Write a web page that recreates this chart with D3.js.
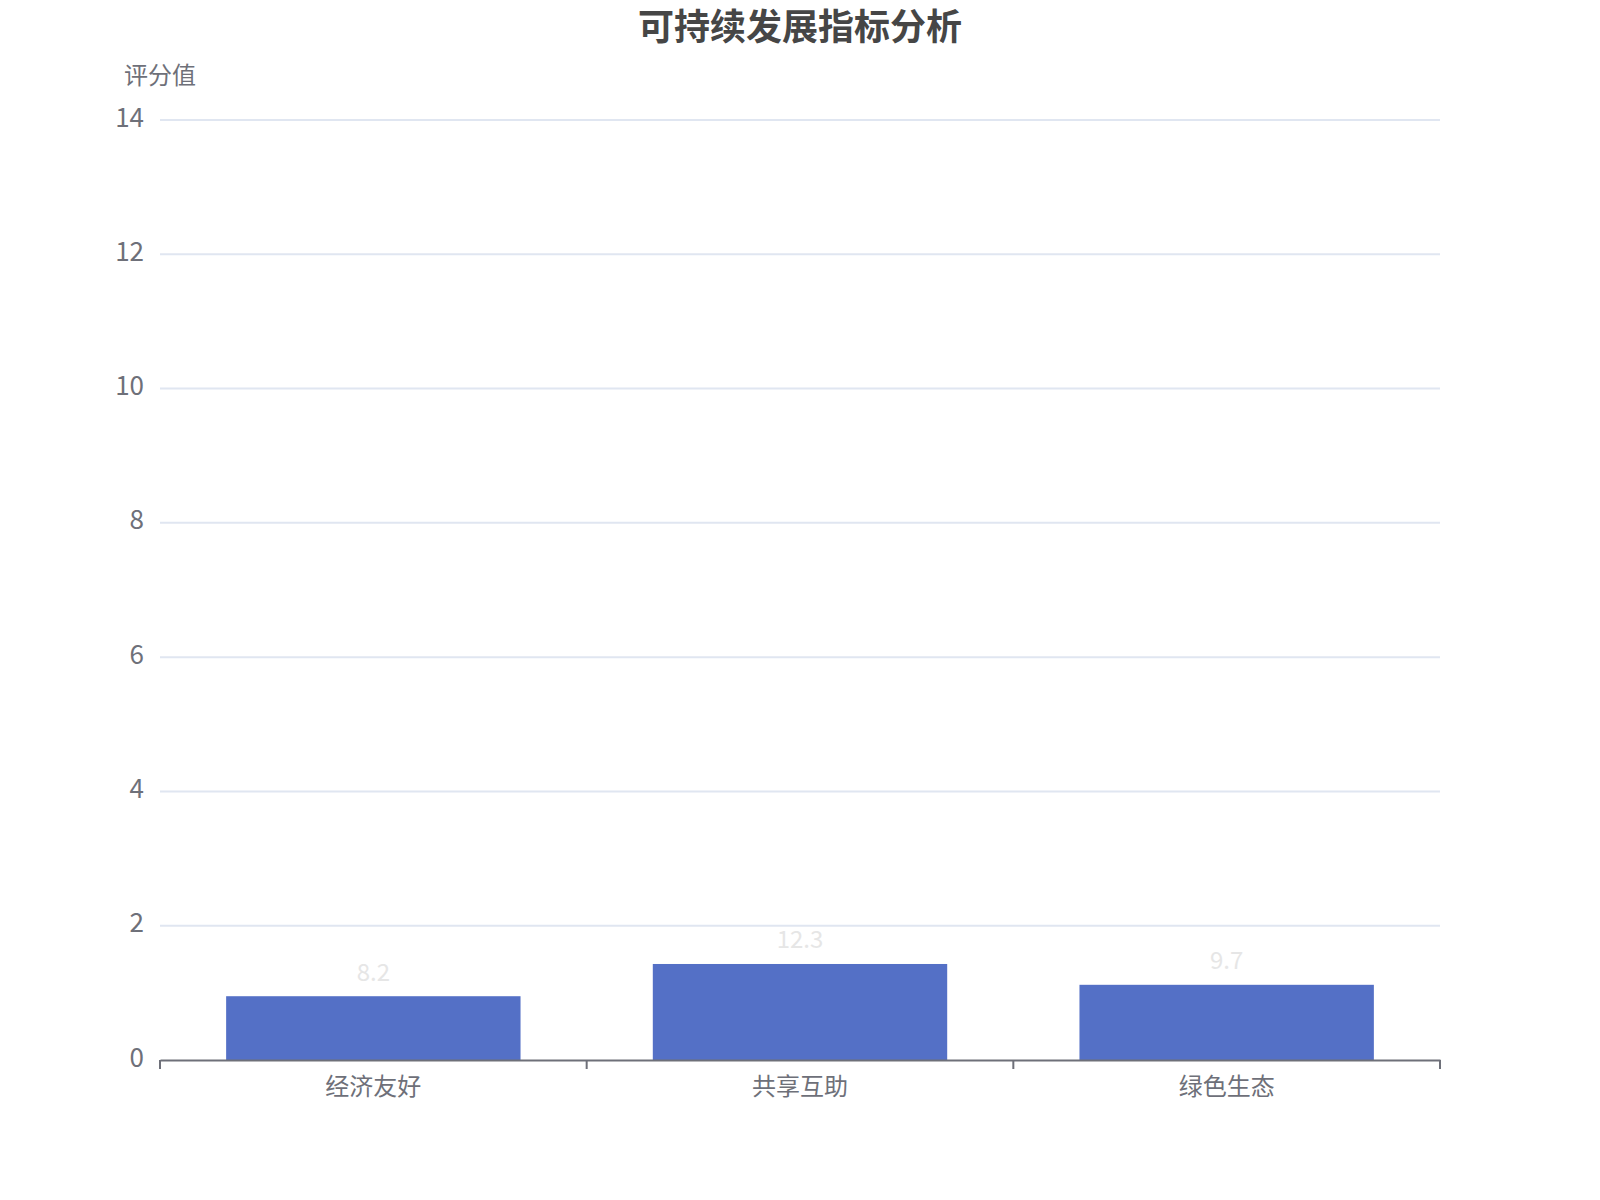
<!DOCTYPE html>
<html>
<head>
<meta charset="utf-8">
<script src="https://cdn.jsdelivr.net/npm/d3@7"></script>
<style>
  body { margin: 0; background: #fff; }
  svg text { font-family: "Noto Sans CJK SC", "Noto Sans", sans-serif; }
</style>
</head>
<body>
<div class="chart"></div>
<script>
const categories = ["经济友好", "共享互助", "绿色生态"];
// value shown on the label
const labelValues = [8.2, 12.3, 9.7];
// bar height as drawn in the picture (in y-axis units)
const barValues = [0.95, 1.43, 1.12];
const yTicks = [0, 2, 4, 6, 8, 10, 12, 14];

const width = 1600, height = 1200;
const m = { top: 120, right: 160, bottom: 140, left: 160 };

const svg = d3.select(".chart")
    .append("svg")
    .attr("width", width)
    .attr("height", height);

const x = d3.scaleBand()
    .domain(categories)
    .range([m.left, width - m.right]);

const y = d3.scaleLinear()
    .domain([0, 14])
    .range([height - m.bottom, m.top]);

// title
svg.append("text")
    .attr("x", width / 2)
    .attr("y", 40)
    .attr("text-anchor", "middle")
    .attr("font-size", 36)
    .attr("font-weight", "bold")
    .attr("fill", "#464646")
    .text("可持续发展指标分析");

// gridlines
svg.append("g")
    .selectAll("line")
    .data(yTicks.filter(d => d !== 0))
    .join("line")
    .attr("x1", m.left)
    .attr("x2", width - m.right)
    .attr("y1", d => y(d))
    .attr("y2", d => y(d))
    .attr("stroke", "#e0e6f1")
    .attr("stroke-width", 2);

// y labels
svg.append("g")
    .selectAll("text")
    .data(yTicks)
    .join("text")
    .attr("x", m.left - 16)
    .attr("y", d => y(d))
    .attr("dy", "0.25em")
    .attr("text-anchor", "end")
    .attr("font-size", 26)
    .attr("fill", "#6e7079")
    .text(d => d);

// y axis name
svg.append("text")
    .attr("x", m.left)
    .attr("y", 76)
    .attr("dy", "0.35em")
    .attr("text-anchor", "middle")
    .attr("font-size", 24)
    .attr("fill", "#6e7079")
    .text("评分值");

// bars
const bw = x.bandwidth() * 0.69;
svg.append("g")
    .selectAll("rect")
    .data(categories)
    .join("rect")
    .attr("x", d => x(d) + (x.bandwidth() - bw) / 2)
    .attr("y", (d, i) => y(barValues[i]))
    .attr("width", bw)
    .attr("height", (d, i) => y(0) - y(barValues[i]))
    .attr("fill", "#5470c6");

// bar labels
svg.append("g")
    .selectAll("text")
    .data(categories)
    .join("text")
    .attr("x", d => x(d) + x.bandwidth() / 2)
    .attr("y", (d, i) => y(barValues[i]) - 24)
    .attr("dy", "0.35em")
    .attr("text-anchor", "middle")
    .attr("font-size", 24)
    .attr("fill", "#e6e6e6")
    .text((d, i) => labelValues[i]);

// x axis
const xa = svg.append("g")
    .attr("transform", `translate(0,${y(0)})`)
    .call(d3.axisBottom(x).tickSize(0).tickPadding(18));
xa.select(".domain").attr("stroke", "#6e7079").attr("stroke-width", 2);
xa.selectAll("text")
    .attr("font-size", 24)
    .attr("fill", "#6e7079");

// boundary ticks
const bounds = categories.map(d => x(d)).concat([x.range()[1]]);
xa.append("g")
    .selectAll("line")
    .data(bounds)
    .join("line")
    .attr("x1", d => d)
    .attr("x2", d => d)
    .attr("y1", 0)
    .attr("y2", 9)
    .attr("stroke", "#6e7079")
    .attr("stroke-width", 2);
</script>
</body>
</html>
